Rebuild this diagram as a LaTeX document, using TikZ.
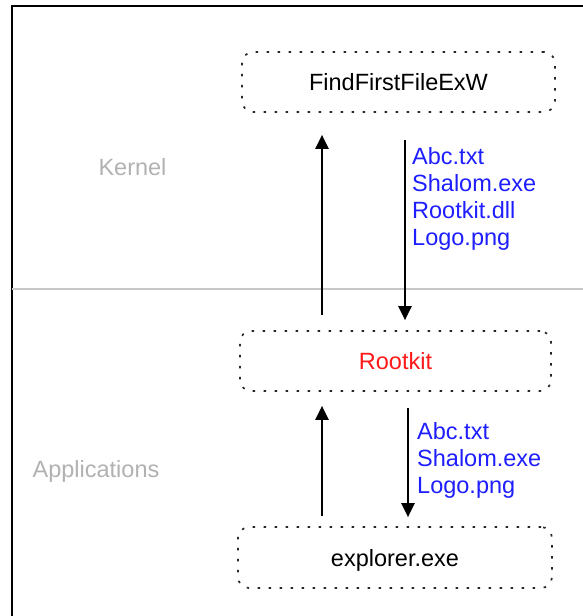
\documentclass[tikz,border=0pt]{standalone}
\usepackage{fontspec}
\setmainfont{Liberation Sans}
\usetikzlibrary{arrows.meta}
\definecolor{layergray}{RGB}{178,178,178}
\definecolor{sepgray}{RGB}{200,200,200}
\definecolor{fileblue}{RGB}{30,30,255}
\definecolor{hookred}{RGB}{255,25,25}
\tikzset{
  callbox/.style={draw=black!85, line width=1.7pt, dash pattern=on 2.5pt off 8.5pt,
    rounded corners=11pt, minimum height=60pt, inner sep=0pt,
    text height=17pt, text depth=0pt, font=\fontsize{23.5}{27}\selectfont},
  layerlabel/.style={text=layergray, font=\fontsize{23.5}{27}\selectfont, inner sep=0pt, anchor=base},
  filelabel/.style={text=fileblue, font=\fontsize{23.5}{27}\selectfont, inner sep=0pt, anchor=base west},
  flow/.style={line width=2.3pt, -{Triangle[length=14pt,width=13pt]}}
}
\begin{document}
\begin{tikzpicture}[x=1pt,y=-1pt]
\useasboundingbox (0,0) rectangle (582,616);
\fill[white] (0,0) rectangle (582,616);
% outer frame (left and top edges)
\draw[line width=2.5pt] (12,620) -- (12,6) -- (590,6);
% kernel / user-mode separator
\draw[sepgray, line width=2.5pt] (12,289) -- (590,289);

% layer names
\node[layerlabel] (kern) at (132.5,175) {Kernel};
\node[layerlabel] (apps) at (96,477) {Applications};

% call chain
\node[callbox, minimum width=313pt] (ffe) at (398.5,82) {FindFirstFileExW};
\node[callbox, minimum width=311pt, text=hookred] (root) at (395.5,361) {Rootkit};
\node[callbox, minimum width=314pt, minimum height=61pt] (expl) at (395,557.5) {explorer.exe};

% requests and results
\draw[flow] ([xshift=-73.5pt,yshift=15pt]root.north) -- ([xshift=-76.5pt,yshift=-22pt]ffe.south);
\draw[flow] ([xshift=6.5pt,yshift=-27pt]ffe.south) -- ([xshift=9.5pt,yshift=10pt]root.north);
\draw[flow] ([xshift=-73pt,yshift=10pt]expl.north) -- ([xshift=-73.5pt,yshift=-14pt]root.south);
\draw[flow] ([xshift=12.5pt,yshift=-16pt]root.south) -- ([xshift=13pt,yshift=9pt]expl.north);

% listing returned by the kernel
\node[filelabel] (k1) at (412,164) {Abc.txt};
\node[filelabel] (k2) at (412,191) {Shalom.exe};
\node[filelabel] (k3) at (412,218) {Rootkit.dll};
\node[filelabel] (k4) at (412,245) {Logo.png};

% filtered listing passed up
\node[filelabel] (u1) at (417,439) {Abc.txt};
\node[filelabel] (u2) at (417,466) {Shalom.exe};
\node[filelabel] (u3) at (417,493) {Logo.png};
\end{tikzpicture}
\end{document}
